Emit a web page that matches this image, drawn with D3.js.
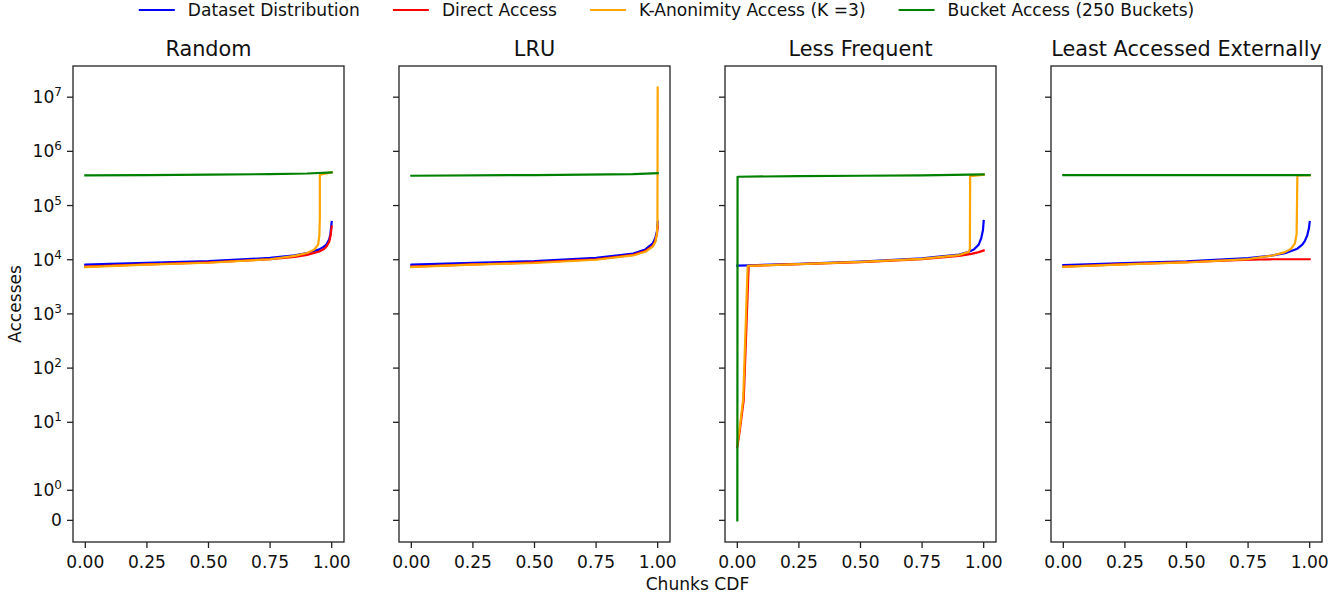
<!DOCTYPE html>
<html>
<head>
<meta charset="utf-8">
<script src="https://cdn.jsdelivr.net/npm/d3@7"></script>
<style>
  body { margin: 0; background: #fff; }
  svg { font-family: "DejaVu Sans", sans-serif; }
</style>
</head>
<body>
<svg class="container"></svg>
<script>
const panelTitles = ["Random", "LRU", "Less Frequent", "Least Accessed Externally"];
const seriesNames = ["Dataset Distribution", "Direct Access", "K-Anonimity Access (K =3)", "Bucket Access (250 Buckets)"];
const seriesColors = ["#0000ff", "#ff0000", "#ffa500", "#008000"];
const xTicks = [0, 0.25, 0.5, 0.75, 1.0];
const yTicks = [0, 1, 10, 100, 1e3, 1e4, 1e5, 1e6, 1e7];

// [chunks cdf, accesses]
const randomDataset = [[0,8100],[0.1,8400],[0.25,8800],[0.5,9400],[0.75,10800],[0.85,12000],[0.9,13200],[0.95,15500],[0.97,17500],[0.98,19500],[0.99,24000],[0.995,30000],[1.0,50000]];
const randomDirect = [[0,7500],[0.1,7800],[0.25,8200],[0.5,8900],[0.75,10200],[0.85,11300],[0.9,12300],[0.95,14200],[0.97,16000],[0.98,17800],[0.99,21500],[0.995,27000],[1.0,41000]];
const randomKanon = [[0,7300],[0.1,7600],[0.25,8100],[0.5,8800],[0.75,10200],[0.85,11800],[0.9,13300],[0.93,15500],[0.945,19000],[0.95,28000],[0.952,60000],[0.952,370000],[1.0,410000]];
const randomBucket = [[0,360000],[0.25,365000],[0.5,372000],[0.75,380000],[0.9,390000],[1.0,410000]];

const lruDataset = [[0,8100],[0.25,8800],[0.5,9400],[0.75,10800],[0.9,13000],[0.95,15500],[0.98,20000],[0.99,25000],[0.997,33000],[1.0,50000]];
const lruDirect = [[0,7500],[0.25,8200],[0.5,8900],[0.75,10200],[0.9,12300],[0.95,14500],[0.98,18000],[0.99,22000],[0.997,30000],[1.0,42000]];
const lruKanon = [[0,7300],[0.25,8100],[0.5,8700],[0.75,10000],[0.9,12000],[0.95,14000],[0.98,17500],[0.99,21000],[0.997,30000],[0.999,45000],[1.0,15000000]];
const lruBucket = [[0,355000],[0.5,365000],[0.9,380000],[1.0,395000]];

const lessDataset = [[0,7800],[0.05,7900],[0.25,8400],[0.5,9200],[0.75,10600],[0.9,12500],[0.94,14000],[0.96,15500],[0.98,19000],[0.99,25000],[0.997,35000],[1.0,52000]];
const lessDirect = [[0,3.5],[0.01,7],[0.026,26],[0.046,7700],[0.25,8300],[0.5,9000],[0.75,10300],[0.9,11800],[0.95,12800],[0.98,13800],[1.0,14800]];
const lessKanon = [[0,4],[0.01,8],[0.024,28],[0.042,7700],[0.25,8300],[0.5,9100],[0.75,10400],[0.9,12200],[0.94,14000],[0.944,16000],[0.945,350000],[1.0,370000]];
const lessBucket = [[0,0],[0.001,340000],[0.25,350000],[0.5,355000],[0.75,360000],[1.0,375000]];

const leastDataset = [[0,8000],[0.25,8700],[0.5,9300],[0.75,10700],[0.85,12000],[0.9,13200],[0.95,16000],[0.97,19000],[0.98,22000],[0.99,28000],[0.997,38000],[1.0,50000]];
const leastDirect = [[0,7500],[0.25,8300],[0.5,9000],[0.7,9800],[0.8,10100],[0.85,10200],[1.0,10200]];
const leastKanon = [[0,7400],[0.25,8200],[0.5,8900],[0.75,10300],[0.85,12000],[0.9,13800],[0.925,16000],[0.94,20000],[0.947,30000],[0.95,360000],[1.0,365000]];
const leastBucket = [[0,365000],[1.0,365000]];

const panelData = [
  [randomDataset, randomDirect, randomKanon, randomBucket],
  [lruDataset, lruDirect, lruKanon, lruBucket],
  [lessDataset, lessDirect, lessKanon, lessBucket],
  [leastDataset, leastDirect, leastKanon, leastBucket]
];

const W = 1341, H = 599;
const left0 = 73, top0 = 66, pw = 271, ph = 476, gap = 326;

// symlog like matplotlib (linthresh 2, linscale 1), in decades
const lsa = 1 / 0.9;
const symlog = v => {
  const a = Math.abs(v), s = v < 0 ? -1 : 1;
  return s * (a <= 2 ? a * lsa / 2 : lsa + Math.log10(a / 2));
};

const gMax = d3.max(panelData.flat(), s => d3.max(s, d => symlog(d[1])));
const gMin = d3.min(panelData.flat(), s => d3.min(s, d => symlog(d[1])));
const pad = (gMax - gMin) * 0.05;

const xScale = d3.scaleLinear().domain([-0.05, 1.05]).range([0, pw]);
const yScaleG = d3.scaleLinear().domain([gMin - pad, gMax + pad]).range([ph, 0]);
const y = v => yScaleG(symlog(v));

const svg = d3.select(".container").attr("width", W).attr("height", H);

const line = d3.line().x(d => xScale(d[0])).y(d => y(d[1]));

const panels = svg.selectAll(".panel")
  .data(panelData)
  .join("g")
  .attr("class", "panel")
  .attr("transform", (d, i) => `translate(${left0 + i * gap}, ${top0})`);

panels.selectAll(".series")
  .data(d => d)
  .join("path")
  .attr("class", "series")
  .attr("d", d => line(d))
  .attr("fill", "none")
  .attr("stroke", (d, i) => seriesColors[i])
  .attr("stroke-width", 2.2)
  .attr("stroke-linejoin", "round")
  .attr("stroke-linecap", "square");

panels.append("rect")
  .attr("width", pw)
  .attr("height", ph)
  .attr("fill", "none")
  .attr("stroke", "#222")
  .attr("stroke-width", 1.3);

panels.append("text")
  .attr("x", pw / 2)
  .attr("y", -10)
  .attr("text-anchor", "middle")
  .style("font-size", "20.8px")
  .attr("fill", "#111")
  .text((d, i) => panelTitles[i]);

// x axis
panels.each(function() {
  const g = d3.select(this).append("g").attr("transform", `translate(0, ${ph})`);
  const xt = g.selectAll(".xt").data(xTicks).join("g").attr("class", "xt")
    .attr("transform", d => `translate(${xScale(d)}, 0)`);
  xt.append("line").attr("y2", 6).attr("stroke", "#222").attr("stroke-width", 1.3);
  xt.append("text").attr("y", 26).attr("text-anchor", "middle")
    .style("font-size", "17.1px").attr("fill", "#111")
    .text(d => d3.format(".2f")(d));
});

// y axis ticks (shared)
panels.each(function(d, pi) {
  const g = d3.select(this).append("g");
  const yt = g.selectAll(".yt").data(yTicks).join("g").attr("class", "yt")
    .attr("transform", v => `translate(0, ${y(v)})`);
  yt.append("line").attr("x2", -6).attr("stroke", "#222").attr("stroke-width", 1.3);
  if (pi === 0) {
    const t = yt.append("text").attr("x", -11).attr("y", 6).attr("text-anchor", "end")
      .style("font-size", "17.1px").attr("fill", "#111");
    t.each(function(v) {
      const el = d3.select(this);
      if (v === 0) { el.text("0"); return; }
      el.append("tspan").text("10");
      el.append("tspan").attr("dy", -7).style("font-size", "12px").text(Math.round(Math.log10(v)));
    });
  }
});

svg.append("text")
  .attr("transform", `translate(21, ${top0 + ph / 2}) rotate(-90)`)
  .attr("text-anchor", "middle")
  .style("font-size", "17.1px").attr("fill", "#111")
  .text("Accesses");

svg.append("text")
  .attr("x", (left0 + 3 * gap + pw + left0) / 2)
  .attr("y", 590)
  .attr("text-anchor", "middle")
  .style("font-size", "17.1px").attr("fill", "#111")
  .text("Chunks CDF");

// legend
const legend = svg.append("g").attr("class", "legend-group");
const legendItems = legend.selectAll(".legend-item")
  .data(seriesNames)
  .join("g")
  .attr("class", "legend-item");
legendItems.append("line")
  .attr("x1", 0).attr("x2", 36).attr("y1", 0).attr("y2", 0)
  .attr("stroke", (d, i) => seriesColors[i]).attr("stroke-width", 2.2);
legendItems.append("text")
  .attr("x", 49).attr("y", 6)
  .style("font-size", "17.1px").attr("fill", "#111")
  .text(d => d);
let cx = 0;
const offs = [];
legendItems.each(function() {
  offs.push(cx);
  cx += 49 + d3.select(this).select("text").node().getComputedTextLength() + 33;
});
const totalW = cx - 33;
const startX = W / 2 - totalW / 2 - 4;
legendItems.attr("transform", (d, i) => `translate(${startX + offs[i]}, 10)`);
</script>
</body>
</html>
